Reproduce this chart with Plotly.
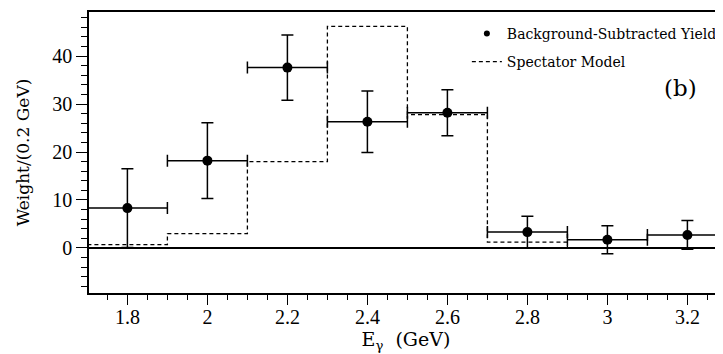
import plotly.graph_objects as go

# ---- data ----
energy = [1.8, 2.0, 2.2, 2.4, 2.6, 2.8, 3.0, 3.2]
yield_vals = [8.3, 18.2, 37.6, 26.3, 28.2, 3.3, 1.7, 2.7]
yield_err = [8.2, 7.9, 6.8, 6.4, 4.8, 3.3, 2.9, 3.0]
bin_half = [0.1] * 8

model_edges = [1.7, 1.9, 2.1, 2.3, 2.5, 2.7, 2.9, 3.1, 3.3]
model_vals = [0.7, 3.0, 18.0, 46.2, 27.8, 1.2, 0.0, 0.0]

x_tick_vals = [1.8, 2.0, 2.2, 2.4, 2.6, 2.8, 3.0, 3.2]
x_tick_text = ["1.8", "2", "2.2", "2.4", "2.6", "2.8", "3", "3.2"]
y_tick_vals = [0, 10, 20, 30, 40]

TICKFONT = "Liberation Serif"
TEXTFONT = "DejaVu Serif"

fig = go.Figure()

# step histogram for the spectator model
step_x = model_edges
step_y = model_vals + [model_vals[-1]]
fig.add_trace(go.Scatter(
    x=step_x, y=step_y, mode="lines", line_shape="hv",
    line=dict(color="black", width=1.3, dash="4px,3px"),
    showlegend=False, hoverinfo="skip"))

# data with error bars
fig.add_trace(go.Scatter(
    x=energy, y=yield_vals, mode="markers",
    marker=dict(color="black", size=10, symbol="circle"),
    error_y=dict(type="data", array=yield_err, color="black", thickness=1.5, width=6),
    error_x=dict(type="data", array=bin_half, color="black", thickness=1.5, width=6),
    showlegend=False))

# legend entries
fig.add_trace(go.Scatter(
    x=[None], y=[None], mode="markers", name="Background-Subtracted Yield",
    marker=dict(color="black", size=6), legendgroup="a"))
fig.add_trace(go.Scatter(
    x=[None], y=[None], mode="lines", name="Spectator Model",
    line=dict(color="black", width=1.2, dash="4px,3px"), legendgroup="b"))

fig.add_annotation(
    x=0.962, y=0.782, xref="paper", yref="paper", text="(b)", showarrow=False,
    font=dict(family=TEXTFONT, size=23, color="black"))

# the page body adds an 8px offset, so the figure is 8px smaller than the window
fig.update_layout(
    width=715, height=346,
    margin=dict(l=81, r=0, t=4, b=61, autoexpand=False),
    paper_bgcolor="white", plot_bgcolor="white",
    font=dict(family=TICKFONT, color="black"),
    legend=dict(x=0.596, y=0.979, xanchor="left", yanchor="top",
                font=dict(family=TEXTFONT, size=14, color="black"),
                bgcolor="rgba(0,0,0,0)", traceorder="grouped", tracegroupgap=7),
)

fig.update_xaxes(
    range=[1.704, 3.289], showgrid=False, zeroline=False, automargin=False,
    showline=True, linecolor="black", linewidth=1.5, mirror=True,
    ticks="outside", ticklen=10, tickwidth=1.3, tickcolor="black",
    tickvals=x_tick_vals, ticktext=x_tick_text, ticklabelstandoff=-5,
    tickfont=dict(family=TICKFONT, size=20, color="black"),
    minor=dict(dtick=0.05, tick0=1.7, ticks="outside", ticklen=5, tickwidth=1.2,
               tickcolor="black", showgrid=False),
    title=dict(text="E<sub>γ</sub>  (GeV)", font=dict(family=TEXTFONT, size=19, color="black"),
               standoff=2),
)

fig.update_yaxes(
    range=[-9.4, 49.2], showgrid=False, automargin=False,
    zeroline=True, zerolinecolor="black", zerolinewidth=1.5,
    showline=True, linecolor="black", linewidth=1.5, mirror=False,
    ticks="outside", ticklen=11, tickwidth=1.3, tickcolor="black",
    tickvals=y_tick_vals,
    tickfont=dict(family=TICKFONT, size=20, color="black"),
    minor=dict(dtick=2, tick0=0, ticks="outside", ticklen=6, tickwidth=1.2,
               tickcolor="black", showgrid=False),
    title=dict(text="Weight/(0.2 GeV)", font=dict(family=TEXTFONT, size=17, color="black"),
               standoff=18),
)

fig.write_html("out.html")
